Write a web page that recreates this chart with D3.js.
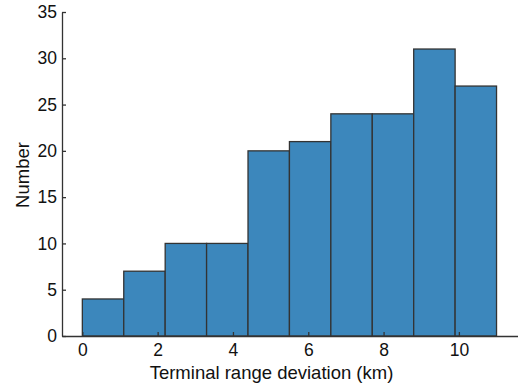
<!DOCTYPE html>
<html><head><meta charset="utf-8">
<script src="https://cdn.jsdelivr.net/npm/d3@7"></script>
<style>body{margin:0;background:#fff}svg{display:block}text{font-family:"Liberation Sans",Arial,sans-serif}</style>
</head><body><svg id="c" width="518" height="389"></svg>
<script>
const binEdges = [0, 1.1, 2.2, 3.3, 4.4, 5.5, 6.6, 7.7, 8.8, 9.9, 11.0];
const counts = [4, 7, 10, 10, 20, 21, 24, 24, 31, 27];
const xTicks = [0, 2, 4, 6, 8, 10];
const yTicks = [0, 5, 10, 15, 20, 25, 30, 35];
const xLabel = "Terminal range deviation (km)";
const yLabel = "Number";

const svg = d3.select("#c");
const x0 = 62, x1 = 518, yTop = 12, yBot = 336;
const x = d3.scaleLinear().domain([-0.54, 11.57]).range([x0, x1]);
const y = d3.scaleLinear().domain([0, 35]).range([yBot, yTop]);

const bins = counts.map((c, i) => ({x0: binEdges[i], x1: binEdges[i+1], c}));
svg.append("g").selectAll("rect").data(bins).join("rect")
  .attr("x", d => x(d.x0)).attr("width", d => x(d.x1) - x(d.x0))
  .attr("y", d => y(d.c)).attr("height", d => y(0) - y(d.c))
  .attr("fill", "#3c87bc").attr("stroke", "#333").attr("stroke-width", 1.3);

const xa = svg.append("g").attr("transform", `translate(0,${yBot})`)
  .call(d3.axisBottom(x).tickValues(xTicks).tickSizeInner(-4).tickSizeOuter(0).tickPadding(8).tickFormat(d3.format("d")));
const ya = svg.append("g").attr("transform", `translate(${x0},0)`)
  .call(d3.axisLeft(y).tickValues(yTicks).tickSizeInner(-4).tickSizeOuter(0).tickPadding(5));
[xa, ya].forEach(a => {
  a.select(".domain").attr("stroke", "#333").attr("stroke-width", 1.3);
  a.selectAll(".tick line").attr("stroke", "#333").attr("stroke-width", 1.3);
  a.selectAll("text").attr("font-size", 17.5).attr("fill", "#111").style("font-family", '"Liberation Sans",Arial,sans-serif');
});

svg.append("text").attr("x", 271.5).attr("y", 379)
  .attr("text-anchor", "middle").attr("font-size", 18.5).attr("fill", "#111").text(xLabel);
svg.append("text").attr("transform", "translate(29,175) rotate(-90)")
  .attr("text-anchor", "middle").attr("font-size", 18.5).attr("fill", "#111").text(yLabel);
</script></body></html>
